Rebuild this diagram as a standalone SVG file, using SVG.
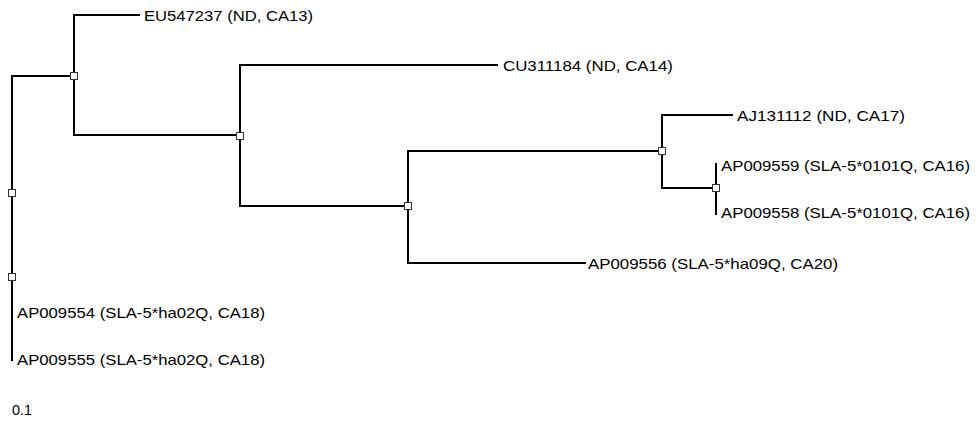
<svg xmlns="http://www.w3.org/2000/svg" width="978" height="421" viewBox="0 0 978 421">
<style>
.br{fill:none;stroke:#000;stroke-width:2;stroke-linecap:square}
.nd{fill:#fff;stroke:#333;stroke-width:1}
.lb{font-family:"Liberation Sans",Arial,sans-serif;font-size:14.5px;fill:#000}
</style>
<rect width="978" height="421" fill="#fff"/>
<g id="connectors">
<path class="br" d="M12,76 V360"/>
<path class="br" d="M12,76 H74"/>
<path class="br" d="M74,15 V135"/>
<path class="br" d="M74,15 H139"/>
<path class="br" d="M74,135 H240"/>
<path class="br" d="M240,65 V206"/>
<path class="br" d="M240,65 H497"/>
<path class="br" d="M240,206 H408"/>
<path class="br" d="M408,151 V263"/>
<path class="br" d="M408,151 H662"/>
<path class="br" d="M408,263 H585"/>
<path class="br" d="M662,115 V188"/>
<path class="br" d="M662,115 H732"/>
<path class="br" d="M662,188 H716"/>
<path class="br" d="M716,164 V214"/>
</g>
<g id="node-a"><rect class="nd" x="70.5" y="72.5" width="7" height="7"/></g>
<g id="node-b"><rect class="nd" x="236.5" y="132.5" width="7" height="7"/></g>
<g id="node-c"><rect class="nd" x="404.5" y="202.5" width="7" height="7"/></g>
<g id="node-d"><rect class="nd" x="658.5" y="147.5" width="7" height="7"/></g>
<g id="node-e"><rect class="nd" x="712.5" y="184.5" width="7" height="7"/></g>
<g id="node-f"><rect class="nd" x="8.5" y="189.5" width="7" height="7"/></g>
<g id="node-g"><rect class="nd" x="8.5" y="273.5" width="7" height="7"/></g>
<g id="leaf-EU547237"><text class="lb" x="144" y="20.5" textLength="169" lengthAdjust="spacingAndGlyphs">EU547237 (ND, CA13)</text></g>
<g id="leaf-CU311184"><text class="lb" x="503" y="70.5" textLength="170" lengthAdjust="spacingAndGlyphs">CU311184 (ND, CA14)</text></g>
<g id="leaf-AJ131112"><text class="lb" x="737" y="120.5" textLength="168" lengthAdjust="spacingAndGlyphs">AJ131112 (ND, CA17)</text></g>
<g id="leaf-AP009559"><text class="lb" x="721" y="170.5" textLength="249" lengthAdjust="spacingAndGlyphs">AP009559 (SLA-5*0101Q, CA16)</text></g>
<g id="leaf-AP009558"><text class="lb" x="721" y="218" textLength="249" lengthAdjust="spacingAndGlyphs">AP009558 (SLA-5*0101Q, CA16)</text></g>
<g id="leaf-AP009556"><text class="lb" x="588" y="268.5" textLength="250" lengthAdjust="spacingAndGlyphs">AP009556 (SLA-5*ha09Q, CA20)</text></g>
<g id="leaf-AP009554"><text class="lb" x="17" y="317.5" textLength="248" lengthAdjust="spacingAndGlyphs">AP009554 (SLA-5*ha02Q, CA18)</text></g>
<g id="leaf-AP009555"><text class="lb" x="17" y="365" textLength="248" lengthAdjust="spacingAndGlyphs">AP009555 (SLA-5*ha02Q, CA18)</text></g>
<g id="scale"><text class="lb" x="12" y="415" textLength="20" lengthAdjust="spacingAndGlyphs">0.1</text></g>
</svg>
